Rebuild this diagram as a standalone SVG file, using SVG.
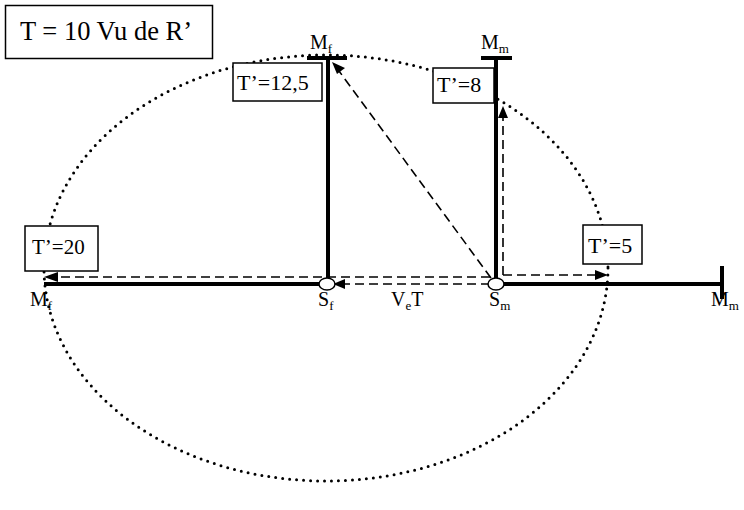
<svg xmlns="http://www.w3.org/2000/svg" width="744" height="510" viewBox="0 0 744 510">
<style>
text{font-family:Liberation Serif,Times New Roman,DejaVu Serif,serif}
.box{fill:#fff;stroke:#000;stroke-width:1.5}
.thick{stroke:#000;stroke-width:4;fill:none}
.dash{stroke:#000;stroke-width:1.6;stroke-dasharray:9 5;fill:none}
.dot{fill:none;stroke:#000;stroke-width:3;stroke-linecap:round;stroke-dasharray:0 7}
.ah{fill:#000}
</style>
<rect width="744" height="510" fill="#fff"/>
<g id="orbit">
<ellipse class="dot" cx="326" cy="268" rx="282" ry="213"/>
</g>
<g id="connectors">
<line class="thick" x1="44" y1="284" x2="321" y2="284"/>
<line class="thick" x1="502" y1="284" x2="722" y2="284"/>
<line class="thick" x1="722" y1="266" x2="722" y2="299"/>
<line class="thick" x1="328" y1="58" x2="328" y2="280"/>
<line class="thick" x1="307" y1="58" x2="347" y2="58"/>
<line class="thick" x1="496" y1="58" x2="496" y2="280"/>
<line class="thick" x1="481" y1="58" x2="512" y2="58"/>
<line class="dash" x1="490" y1="277" x2="57" y2="277"/>
<line class="dash" x1="490" y1="284" x2="344" y2="284"/>
<line class="dash" x1="503" y1="275" x2="596" y2="275"/>
<line class="dash" x1="503" y1="275" x2="503" y2="118"/>
<line class="dash" x1="491" y1="278" x2="339" y2="71"/>
<polygon class="ah" points="44,277 58,272 58,282"/>
<polygon class="ah" points="333,284 345,279 345,289"/>
<polygon class="ah" points="608,275 595,270 595,280"/>
<polygon class="ah" points="503,106 498,118 508,118"/>
<polygon class="ah" points="332,62 345,68 337,74"/>
</g>
<g id="Sf"><ellipse cx="327" cy="284" rx="8" ry="6" fill="#fff" stroke="#000" stroke-width="1.5"/></g>
<g id="Sm"><ellipse cx="496" cy="284" rx="8" ry="6" fill="#fff" stroke="#000" stroke-width="1.5"/></g>
<g id="title"><rect class="box" x="5.5" y="5.5" width="207" height="53"/><text x="20" y="40" font-size="26.5">T = 10 Vu de R’</text></g>
<g id="T125"><rect class="box" x="233" y="63" width="89" height="38"/><text x="237" y="90" font-size="22">T’=12,5</text></g>
<g id="T8"><rect class="box" x="433" y="68" width="61" height="35"/><text x="437" y="92" font-size="22">T’=8</text></g>
<g id="T20"><rect class="box" x="25" y="226" width="73" height="45"/><text x="32" y="254" font-size="21">T’=20</text></g>
<g id="T5"><rect class="box" x="583" y="225" width="59" height="39"/><text x="588" y="253" font-size="22">T’=5</text></g>
<g id="labels" font-size="20">
<text x="310" y="49">M<tspan font-size="13" dy="4">f</tspan></text>
<text x="481" y="49">M<tspan font-size="13" dy="4">m</tspan></text>
<text x="30" y="306">M<tspan font-size="13" dy="4">f</tspan></text>
<text x="318" y="306">S<tspan font-size="13" dy="4">f</tspan></text>
<text x="391" y="306">V<tspan font-size="13" dy="4">e</tspan><tspan dy="-4">T</tspan></text>
<text x="489" y="306">S<tspan font-size="13" dy="4">m</tspan></text>
<text x="711" y="306">M<tspan font-size="13" dy="4">m</tspan></text>
</g>
</svg>
